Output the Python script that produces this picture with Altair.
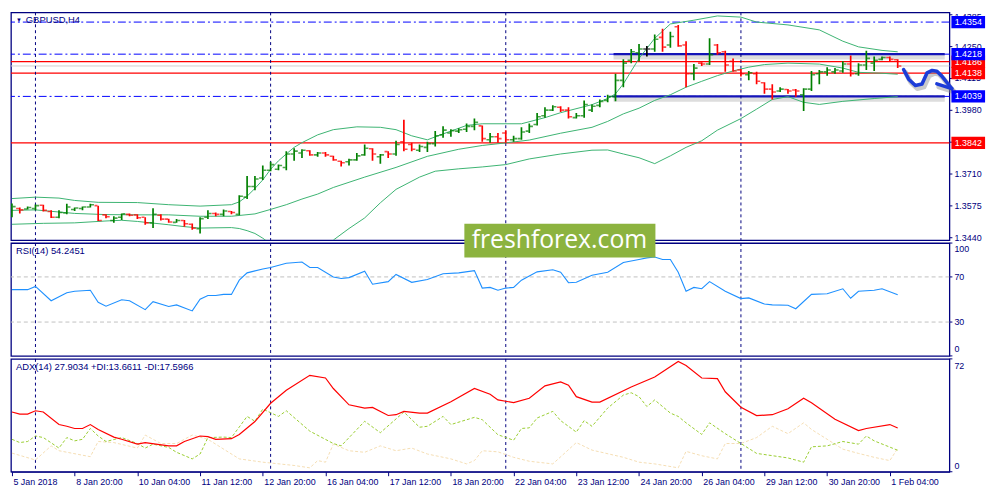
import altair as alt
import pandas as pd

NAVY = "#000080"
FONT = "Liberation Sans"

# ---------------- price bars (GBPUSD H4), index 0 = first visible bar ----------------
opens = [1.3551,1.3564,1.3562,1.3564,1.3578,1.3551,1.3527,1.3545,1.3560,1.3564,
         1.3570,1.3576,1.3537,1.3513,1.3527,1.3539,1.3537,1.3527,1.3503,1.3535,
         1.3519,1.3505,1.3513,1.3497,1.3478,1.3527,1.3543,1.3539,1.3551,1.3539,
         1.3612,1.3657,1.3693,1.3726,1.3730,1.3738,1.3795,1.3799,1.3809,1.3791,
         1.3799,1.3785,1.3764,1.3762,1.3770,1.3791,1.3817,1.3783,1.3805,1.3795,
         1.3847,1.3835,1.3811,1.3823,1.3839,1.3876,1.3884,1.3892,1.3900,1.3912,
         1.3914,1.3855,1.3868,1.3884,1.3855,1.3860,1.3892,1.3920,1.3957,1.3981,
         1.3993,1.3981,1.3949,1.3957,1.3981,1.4001,1.4022,1.4038,1.4107,1.4192,
         1.4224,1.4240,1.4240,1.4289,1.4257,1.4334,1.4257,1.4135,1.4180,1.4176,
         1.4257,1.4228,1.4188,1.4151,1.4131,1.4135,1.4097,1.4070,1.4062,1.4068,
         1.4066,1.4046,1.4070,1.4135,1.4143,1.4143,1.4147,1.4176,1.4135,1.4172,
         1.4180,1.4196,1.4204,1.4194]
highs = [1.3585,1.3568,1.3572,1.3581,1.3580,1.3556,1.3556,1.3584,1.3568,1.3572,
         1.3584,1.3576,1.3539,1.3531,1.3543,1.3543,1.3539,1.3527,1.3565,1.3539,
         1.3520,1.3519,1.3515,1.3500,1.3527,1.3556,1.3547,1.3560,1.3553,1.3620,
         1.3702,1.3702,1.3746,1.3762,1.3750,1.3807,1.3819,1.3815,1.3811,1.3803,
         1.3803,1.3787,1.3766,1.3775,1.3799,1.3835,1.3819,1.3795,1.3807,1.3851,
         1.3940,1.3843,1.3835,1.3847,1.3892,1.3912,1.3900,1.3904,1.3924,1.3945,
         1.3916,1.3884,1.3884,1.3896,1.3872,1.3908,1.3924,1.3969,1.3993,1.4001,
         1.3997,1.3993,1.3969,1.4022,1.4005,1.4026,1.4046,1.4135,1.4196,1.4240,
         1.4261,1.4253,1.4301,1.4326,1.4313,1.4342,1.4273,1.4176,1.4184,1.4285,
         1.4261,1.4232,1.4200,1.4155,1.4147,1.4143,1.4099,1.4091,1.4078,1.4070,
         1.4070,1.4074,1.4147,1.4151,1.4163,1.4159,1.4188,1.4212,1.4180,1.4232,
         1.4208,1.4208,1.4208,1.4196]
lows = [1.3527,1.3543,1.3560,1.3556,1.3551,1.3524,1.3523,1.3539,1.3553,1.3556,
        1.3568,1.3511,1.3523,1.3503,1.3515,1.3531,1.3519,1.3495,1.3481,1.3513,
        1.3504,1.3503,1.3487,1.3474,1.3458,1.3519,1.3531,1.3531,1.3539,1.3535,
        1.3604,1.3641,1.3685,1.3722,1.3726,1.3726,1.3766,1.3778,1.3787,1.3783,
        1.3783,1.3766,1.3742,1.3746,1.3766,1.3787,1.3766,1.3754,1.3778,1.3787,
        1.3807,1.3807,1.3803,1.3803,1.3827,1.3864,1.3868,1.3884,1.3888,1.3896,
        1.3847,1.3843,1.3843,1.3843,1.3847,1.3855,1.3884,1.3916,1.3949,1.3977,
        1.3973,1.3945,1.3945,1.3949,1.3973,1.3993,1.4014,1.4018,1.4078,1.4180,
        1.4188,1.4208,1.4228,1.4228,1.4245,1.4249,1.4078,1.4107,1.4168,1.4172,
        1.4216,1.4143,1.4143,1.4123,1.4107,1.4091,1.4050,1.4026,1.4058,1.4050,
        1.4038,1.3977,1.4062,1.4091,1.4127,1.4135,1.4139,1.4123,1.4127,1.4151,
        1.4147,1.4192,1.4188,1.4159]
closes = [1.3572,1.3558,1.3568,1.3576,1.3556,1.3527,1.3547,1.3570,1.3566,1.3570,
          1.3580,1.3513,1.3529,1.3523,1.3541,1.3535,1.3525,1.3503,1.3539,1.3519,
          1.3507,1.3513,1.3499,1.3480,1.3521,1.3543,1.3539,1.3553,1.3547,1.3616,
          1.3657,1.3689,1.3726,1.3750,1.3746,1.3795,1.3807,1.3811,1.3791,1.3799,
          1.3791,1.3770,1.3758,1.3770,1.3787,1.3819,1.3795,1.3791,1.3795,1.3835,
          1.3815,1.3815,1.3827,1.3839,1.3872,1.3896,1.3894,1.3898,1.3912,1.3929,
          1.3860,1.3868,1.3860,1.3855,1.3860,1.3888,1.3912,1.3953,1.3981,1.3995,
          1.3981,1.3953,1.3957,1.4005,1.3997,1.4018,1.4038,1.4107,1.4180,1.4228,
          1.4240,1.4240,1.4281,1.4248,1.4293,1.4253,1.4135,1.4159,1.4176,1.4216,
          1.4224,1.4172,1.4147,1.4135,1.4139,1.4103,1.4070,1.4058,1.4070,1.4062,
          1.4062,1.4070,1.4131,1.4143,1.4151,1.4151,1.4176,1.4135,1.4172,1.4200,
          1.4192,1.4204,1.4196,1.4168]

# ---------------- Bollinger bands ----------------
bb_up_idx = [0,3,6,8,11,16,20,24,28,29,30,31,32,33,34,35,36,37,39,41,44,47,49,51,53,55,58,60,65,68,
             70,74,76,77,78,80,82,84,87,90,93,95,99,103,106,108,111,113]
bb_up = [1.3606,1.3612,1.3608,1.3598,1.3590,1.3589,1.3580,1.3574,1.3580,1.3592,
         1.3616,1.3649,1.3685,1.3730,1.3766,1.3795,1.3823,1.3843,1.3876,1.3898,
         1.3910,1.3908,1.3898,1.3872,1.3855,1.3880,1.3916,1.3923,1.3923,1.3949,
         1.3970,1.4004,1.4030,1.4050,1.4092,1.4200,1.4285,1.4346,1.4362,1.4380,
         1.4375,1.4354,1.4342,1.4321,1.4273,1.4249,1.4234,1.4228]
bb_mid_idx = [0,3,8,12,16,20,24,28,31,33,35,37,39,41,45,49,53,57,60,63,
              66,70,74,76,78,80,82,84,86,88,90,92,94,96,99,103,106,108,111,113]
bb_mid = [1.3556,1.3558,1.3543,1.3538,1.3537,1.3537,1.3531,1.3531,1.3541,1.3560,
          1.3580,1.3604,1.3625,1.3653,1.3697,1.3738,1.3785,1.3815,1.3831,1.3842,
          1.3854,1.3883,1.3908,1.3933,1.3965,1.3989,1.4022,1.4046,1.4078,1.4103,
          1.4127,1.4147,1.4163,1.4174,1.4180,1.4176,1.4159,1.4141,1.4137,1.4133]
bb_lo_idx = [0,4,8,12,14,16,20,22,24,28,29,30,31,32,34,37,40,41,43,45,
             47,49,52,54,57,60,63,66,70,74,76,78,80,82,84,86,88,90,93,95,
             97,99,101,103,106,110,113]
bb_lo = [1.3497,1.3501,1.3503,1.3511,1.3514,1.3509,1.3495,1.3487,1.3481,1.3483,
         1.3479,1.3470,1.3458,1.3438,1.3389,1.3365,1.3389,1.3430,1.3479,1.3524,
         1.3588,1.3645,1.3697,1.3722,1.3732,1.3740,1.3750,1.3774,1.3795,1.3811,
         1.3812,1.3795,1.3779,1.3754,1.3787,1.3823,1.3851,1.3896,1.3945,1.3985,
         1.4026,1.4038,1.4014,1.4005,1.4018,1.4030,1.4038]

# ---------------- RSI(14) ----------------
rsi_idx = [0,2,3,5,7,8,10,11,12,14,15,17,18,20,21,23,24,25,26,27,
           28,29,30,32,33,35,37,38,39,41,42,43,45,46,48,49,51,53,55,57,
           59,60,61,62,63,64,65,67,69,70,71,72,74,76,78,80,81,82,83,84,
           85,86,87,88,89,91,93,94,96,97,99,100,102,104,106,107,108,110,111,113]
rsi = [58.7,58.7,61.6,48.9,55.9,57.3,58.2,47.5,44.1,49.7,
       48.9,41.0,48.1,43.8,45.2,39.9,50.3,53.6,53.6,54.5,
       54.5,67.1,73.6,77.0,78.4,82.1,83.2,78.4,78.4,70.0,
       68.6,69.4,75.1,63.5,65.8,72.2,65.2,67.7,72.8,73.6,
       75.6,60.1,60.7,58.2,60.1,60.7,67.1,74.5,76.4,74.2,
       64.9,65.2,71.4,74.2,82.7,85.4,86.9,87.7,85.4,85.4,
       74.2,57.3,60.7,59.5,65.8,57.3,50.8,51.4,46.0,45.2,
       44.9,41.8,54.5,55.1,59.5,51.1,57.3,58.2,59.5,54.2]

# ---------------- ADX(14), +DI, -DI ----------------
adx_idx = [0,1,2,3,4,6,7,8,9,10,11,13,14,16,17,20,21,22,24,25,
           26,28,29,31,33,35,38,40,41,43,45,46,48,49,50,52,53,56,59,61,
           62,64,66,68,70,71,72,74,75,79,82,85,86,88,90,91,93,95,97,99,
           101,102,105,108,109,112,113]
adx = [38.1,36.8,36.8,38.9,38.1,30.1,29.0,27.6,27.6,30.1,
       27.0,22.1,20.7,17.6,18.6,16.5,16.5,19.3,22.8,22.4,
       20.7,21.1,23.8,32.0,43.7,52.0,61.5,59.8,53.1,42.7,
       40.6,41.0,35.9,36.4,38.5,37.4,37.4,44.7,53.1,49.4,
       45.8,44.1,46.9,54.8,57.3,55.2,47.9,44.4,44.4,54.1,
       60.4,70.3,67.8,59.8,59.4,51.0,41.2,35.8,36.4,40.2,
       46.9,44.0,33.5,26.3,27.6,30.1,27.9]
pdi_idx = [0,1,2,3,4,6,7,8,9,10,11,12,14,16,17,18,20,21,23,24,
           25,27,28,30,31,32,34,35,38,41,42,45,47,50,52,53,55,56,59,60,
           62,64,65,66,67,69,70,72,73,74,76,78,79,80,81,82,84,85,86,88,
           89,91,93,95,99,101,102,104,106,108,109,110,113]
pdi = [20.7,18.6,19.3,22.8,21.8,15.1,21.8,19.7,20.7,27.6,
       22.8,19.3,21.8,18.0,15.1,17.6,15.5,12.4,8.2,11.3,
       21.8,22.1,21.8,35.3,32.2,40.0,35.3,38.9,25.9,18.0,
       16.5,32.2,24.9,38.1,28.4,29.0,35.3,30.1,34.7,33.2,
       23.6,20.1,27.6,28.0,34.3,38.5,32.6,25.3,32.6,29.0,
       40.6,48.9,50.4,47.9,41.6,45.8,37.4,35.3,31.2,23.8,
       31.2,24.3,18.0,11.7,8.8,6.1,15.9,16.5,19.3,17.6,
       22.8,19.7,13.7]
mdi_idx = [0,3,5,6,10,11,13,16,17,19,21,23,25,29,32,36,38,39,40,41,
           43,45,47,49,51,53,56,58,59,60,62,64,66,69,72,74,78,80,82,85,
           86,88,90,91,93,95,97,99,101,102,104,106,108,110,112,113]
mdi = [11.9,7.5,16.5,13.4,9.6,19.3,18.6,15.1,23.4,18.0,
       18.0,23.4,20.7,8.2,6.1,4.0,2.5,7.1,6.1,17.6,
       13.4,12.4,16.5,13.4,15.1,11.3,8.2,5.0,7.1,13.4,
       12.7,9.2,6.7,5.0,18.6,13.8,9.2,6.1,5.0,2.5,
       13.0,10.2,8.2,18.0,18.0,21.8,29.0,24.3,31.2,27.0,
       20.7,14.4,11.7,9.2,7.1,15.0]

# ---------------- levels, separators, annotations ----------------
blue_levels = [1.4354, 1.4218, 1.4039]
red_levels = [1.4186, 1.4138, 1.3842]
bid_price = [1.4168]
zone_levels = [1.4218, 1.4039]
zone_start, zone_end = [76.75], [119.0]
week_seps = [3, 33, 63, 93]
# price tags drawn in this order (later ones cover earlier ones)
tag_prices = [1.4186, 1.4354, 1.4218, 1.4138, 1.4039, 1.3842]
tag_colors = ["#ff0000", "#0000ff", "#0000ff", "#ff0000", "#0000ff", "#ff0000"]
arrow_x = [113.75, 114.4, 115.25, 116.1, 116.75, 117.4, 118.0, 118.6, 119.25, 119.9]
arrow_p = [1.4153, 1.4112, 1.4085, 1.4092, 1.4139, 1.4149, 1.4146, 1.4126, 1.4099, 1.4072]
wing_x = [118.0, 119.9]
wing_p = [1.4092, 1.4072]
x_tick_labels = ["5 Jan 2018", "8 Jan 20:00", "10 Jan 04:00", "11 Jan 12:00", "12 Jan 20:00",
                 "16 Jan 04:00", "17 Jan 12:00", "18 Jan 20:00", "22 Jan 04:00", "23 Jan 12:00",
                 "24 Jan 20:00", "26 Jan 04:00", "29 Jan 12:00", "30 Jan 20:00", "1 Feb 04:00"]
price_ticks = [1.4250, 1.4115, 1.3980, 1.3845, 1.3710, 1.3575, 1.3440]
price_top_tick = [1.4385]
rsi_mid_ticks = [70, 30]
rsi_top_tick, rsi_bottom_tick = [100], [0]
adx_top_tick, adx_bottom_tick = [72], [0]

# ---------------- layout ----------------
W = 948
H1, H2, H3 = 230, 114, 114
xs = alt.Scale(domain=[-0.125, 119.6], nice=False, zero=False)
ysp = alt.Scale(domain=[1.3430, 1.4395], nice=False, zero=False)
ysr = alt.Scale(domain=[0, 100], nice=False, zero=False)
ysa = alt.Scale(domain=[0, 72], nice=False, zero=False)

one = pd.DataFrame({"k": [0]})
X_NONE = alt.X("i:Q", scale=xs, axis=None)   # price / RSI panels: no x axis at all
X_ADX = alt.X("i:Q", scale=xs)                # ADX panel: axis comes from first layer

def YP(f):
    return alt.Y(f, scale=ysp, axis=None)

def ylabels(vals, scale, fmt, yoff=0):
    df = pd.DataFrame({"v": vals, "t": [fmt.format(v) for v in vals]})
    return alt.Chart(df).mark_text(align="left", baseline="middle", font=FONT, fontSize=9,
                                   color=NAVY, yOffset=yoff).encode(
        x=alt.value(W + 5), y=alt.Y("v:Q", scale=scale, axis=None), text="t:N")

def yticks(vals, scale):
    return alt.Chart(pd.DataFrame({"v": vals})).mark_rule(color=NAVY, strokeWidth=1).encode(
        x=alt.value(W), x2=alt.value(W + 3), y=alt.Y("v:Q", scale=scale, axis=None))

# ---- price panel ----
bars = pd.DataFrame({"i": list(range(len(opens))), "o": opens, "h": highs, "l": lows, "c": closes})
bars["dir"] = ["up" if c > o else ("down" if c < o else "flat") for o, c in zip(opens, closes)]
cscale = alt.Scale(domain=["up", "down", "flat"], range=["#008000", "#ff0000", "#000000"])
col = alt.Color("dir:N", scale=cscale, legend=None)

lv_blue = alt.Chart(pd.DataFrame({"p": blue_levels})).mark_rule(
    color="#0000ff", strokeWidth=1, strokeDash=[8, 3, 2, 3]).encode(y=YP("p:Q"))
lv_red = alt.Chart(pd.DataFrame({"p": red_levels})).mark_rule(
    color="#ff0000", strokeWidth=1.2).encode(y=YP("p:Q"))
lv_bid = alt.Chart(pd.DataFrame({"p": bid_price})).mark_rule(
    color="#cfcfcf", strokeWidth=1).encode(y=YP("p:Q"))

zdf = pd.DataFrame({"p": zone_levels, "i": zone_start * 2, "i2": zone_end * 2})
zone_sh = alt.Chart(zdf).mark_rule(color="#777777", opacity=0.25, strokeWidth=5, yOffset=3).encode(
    x=X_NONE, x2="i2:Q", y=YP("p:Q"))
zone = alt.Chart(zdf).mark_rule(color="#1414b8", strokeWidth=2.2).encode(
    x=X_NONE, x2="i2:Q", y=YP("p:Q"))

seps_df = pd.DataFrame({"i": week_seps})
seps = alt.Chart(seps_df).mark_rule(color=NAVY, strokeWidth=1, strokeDash=[3, 3]).encode(x=X_NONE)

def band(ix, vals):
    return alt.Chart(pd.DataFrame({"i": ix, "p": vals})).mark_line(
        color="#3cb371", strokeWidth=1, clip=True).encode(x=X_NONE, y=YP("p:Q"))

hl = alt.Chart(bars).mark_rule(strokeWidth=1.7, clip=True).encode(
    x=X_NONE, y=YP("l:Q"), y2="h:Q", color=col)
op = alt.Chart(bars).mark_tick(orient="horizontal", size=3, thickness=1.6, xOffset=-2.2,
                               clip=True).encode(x=X_NONE, y=YP("o:Q"), color=col)
cl = alt.Chart(bars).mark_tick(orient="horizontal", size=3, thickness=1.6, xOffset=2.2,
                               clip=True).encode(x=X_NONE, y=YP("c:Q"), color=col)

adf = pd.DataFrame({"i": arrow_x, "p": arrow_p, "k": list(range(len(arrow_x)))})
wdf = pd.DataFrame({"i": wing_x, "p": wing_p, "k": [0, 1]})
arrow_layers = []
for d in (adf, wdf):
    arrow_layers.append(alt.Chart(d).mark_line(color="#8a8a8a", opacity=0.45, strokeWidth=5,
                                               xOffset=2, yOffset=3, strokeCap="round",
                                               strokeJoin="round").encode(
        x=X_NONE, y=YP("p:Q"), order="k:Q"))
for d in (adf, wdf):
    arrow_layers.append(alt.Chart(d).mark_line(color="#1c3cd8", strokeWidth=3.6, strokeCap="round",
                                               strokeJoin="round").encode(
        x=X_NONE, y=YP("p:Q"), order="k:Q"))

tag_layers = []
for p, c in zip(tag_prices, tag_colors):
    tdf = pd.DataFrame({"p": [p], "t": [f"{p:.4f}"]})
    tag_layers.append(alt.Chart(tdf).mark_rule(color=c, strokeWidth=12.5, strokeCap="butt").encode(
        x=alt.value(950), x2=alt.value(984), y=YP("p:Q")))
    tag_layers.append(alt.Chart(tdf).mark_text(color="white", font=FONT, fontSize=9,
                                               align="center", baseline="middle").encode(
        x=alt.value(967), y=YP("p:Q"), text="t:N"))

title_tri = alt.Chart(one).mark_text(text="▼", color=NAVY, fontSize=6, align="left",
                                     baseline="middle").encode(x=alt.value(5), y=alt.value(8))
title_txt = alt.Chart(one).mark_text(text="GBPUSD,H4", color=NAVY, font=FONT, fontSize=9.5,
                                     align="left", baseline="middle").encode(
    x=alt.value(15), y=alt.value(8))

price = alt.layer(
    lv_blue, lv_red, lv_bid, zone_sh, zone, seps,
    band(bb_up_idx, bb_up), band(bb_mid_idx, bb_mid), band(bb_lo_idx, bb_lo),
    hl, op, cl, *arrow_layers,
    yticks(price_ticks + price_top_tick, ysp),
    ylabels(price_ticks, ysp, "{:.4f}"), ylabels(price_top_tick, ysp, "{:.4f}", yoff=2),
    *tag_layers, title_tri, title_txt
).properties(width=W, height=H1)

# ---- RSI panel ----
rsi_df = pd.DataFrame({"i": rsi_idx, "v": rsi})
rsi_lv = alt.Chart(pd.DataFrame({"v": rsi_mid_ticks})).mark_rule(
    color="#c0c0c0", strokeWidth=1, strokeDash=[4, 3]).encode(y=alt.Y("v:Q", scale=ysr, axis=None))
rsi_line = alt.Chart(rsi_df).mark_line(color="#1e90ff", strokeWidth=1.1).encode(
    x=X_NONE, y=alt.Y("v:Q", scale=ysr, axis=None))
rsi_txt = alt.Chart(one).mark_text(text="RSI(14) 54.2451", color=NAVY, font=FONT, fontSize=9.5,
                                   align="left", baseline="middle").encode(
    x=alt.value(5), y=alt.value(8.5))
wm_box = alt.Chart(one).mark_rect(color="#8cb33f", clip=False).encode(
    x=alt.value(458), x2=alt.value(651), y=alt.value(-19.4), y2=alt.value(14.6))
wm_txt = alt.Chart(one).mark_text(text="freshforex.com", color="white", font="Open Sans",
                                  fontSize=25, align="center", baseline="middle").encode(
    x=alt.value(554), y=alt.value(-3))
rsi_panel = alt.layer(
    rsi_lv, seps, rsi_line, rsi_txt,
    yticks(rsi_top_tick + rsi_mid_ticks + rsi_bottom_tick, ysr),
    ylabels(rsi_mid_ticks, ysr, "{}"), ylabels(rsi_top_tick, ysr, "{}", yoff=6),
    ylabels(rsi_bottom_tick, ysr, "{}", yoff=-7),
    wm_box, wm_txt
).properties(width=W, height=H2)

# ---- ADX panel ----
label_expr = "[" + ",".join(f"'{s}'" for s in x_tick_labels) + "][round(datum.value/8)]"
x_axis = alt.Axis(orient="bottom", values=list(range(0, 113, 8)),
                  labelExpr=label_expr, labelAlign="left", labelBaseline="top",
                  labelPadding=2, labelOffset=1, tickSize=4, tickColor=NAVY, domainColor=NAVY,
                  labelColor=NAVY, labelFont=FONT, labelFontSize=9, labelFlush=False,
                  labelOverlap=False, labelBound=False, grid=False, title=None)
adx_df = pd.DataFrame({"i": adx_idx, "v": adx})
adx_axes = alt.Chart(adx_df).mark_point(opacity=0).encode(
    x=alt.X("i:Q", scale=xs, axis=x_axis), y=alt.Y("v:Q", scale=ysa, axis=None))
seps_adx = alt.Chart(seps_df).mark_rule(color=NAVY, strokeWidth=1, strokeDash=[3, 3]).encode(x=X_ADX)

def di(ix, vals, color):
    return alt.Chart(pd.DataFrame({"i": ix, "v": vals})).mark_line(
        color=color, strokeWidth=1, strokeDash=[3, 2]).encode(
        x=X_ADX, y=alt.Y("v:Q", scale=ysa, axis=None))

mdi_line = di(mdi_idx, mdi, "#f5deb3")
pdi_line = di(pdi_idx, pdi, "#9acd32")
adx_line = alt.Chart(adx_df).mark_line(color="#ff0000", strokeWidth=1.2).encode(
    x=X_ADX, y=alt.Y("v:Q", scale=ysa, axis=None))
adx_txt = alt.Chart(one).mark_text(text="ADX(14) 27.9034 +DI:13.6611 -DI:17.5966", color=NAVY,
                                   font=FONT, fontSize=9.5, align="left", baseline="middle").encode(
    x=alt.value(5), y=alt.value(8.5))
adx_panel = alt.layer(
    adx_axes, seps_adx, mdi_line, pdi_line, adx_line, adx_txt,
    yticks(adx_top_tick + adx_bottom_tick, ysa),
    ylabels(adx_top_tick, ysa, "{}", yoff=7), ylabels(adx_bottom_tick, ysa, "{}", yoff=-6)
).properties(width=W, height=H3)

chart = alt.vconcat(price, rsi_panel, adx_panel, spacing=3, padding=0, bounds="flush",
                    background="white").configure_view(stroke=NAVY, strokeWidth=1.3)

chart.save("out.html", embed_options={"renderer": "svg", "actions": False})
